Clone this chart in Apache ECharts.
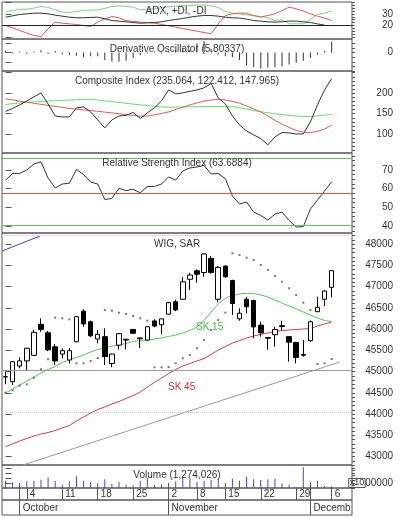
<!DOCTYPE html>
<html><head><meta charset="utf-8">
<script src="https://cdn.jsdelivr.net/npm/echarts@6/dist/echarts.min.js"></script>
<style>html,body{margin:0;padding:0;background:#fff}#c{width:400px;height:518px}</style>
</head><body><div id="c"></div>
<script>
// ---------- data ----------
const dates = ['2010-09-29','2010-09-30','2010-10-01',
 '2010-10-04','2010-10-05','2010-10-06','2010-10-07','2010-10-08',
 '2010-10-11','2010-10-12','2010-10-13','2010-10-14','2010-10-15',
 '2010-10-18','2010-10-19','2010-10-20','2010-10-21','2010-10-22',
 '2010-10-25','2010-10-26','2010-10-27','2010-10-28','2010-10-29',
 '2010-11-02','2010-11-03','2010-11-04','2010-11-05',
 '2010-11-08','2010-11-09','2010-11-10','2010-11-12',
 '2010-11-15','2010-11-16','2010-11-17','2010-11-18','2010-11-19',
 '2010-11-22','2010-11-23','2010-11-24','2010-11-25','2010-11-26',
 '2010-11-29','2010-11-30','2010-12-01','2010-12-02','2010-12-03',
 '2010-12-06'];
const open  = [44870,44760,45130,45250,45380,46110,45910,45580,45410,45270,45700,46420,46170,45765,45820,45190,45620,45740,45990,45770,45740,46190,46100,46350,46640,46700,47170,47370,47330,47660,46700,47480,47140,46240,46700,46670,46090,45780,45866,46060,45820,45680,45380,45725,46407,46700,46980];
const close = [44880,45230,45250,45546,45920,45990,45510,45250,45490,45490,46290,46120,45840,45875,45350,45410,45890,45760,45900,45790,46054,46070,46240,46620,46450,47110,47270,47290,47765,47330,47450,47230,46600,46370,46525,46050,45910,45800,45990,46080,45690,45330,45400,46170,46510,46894,47372];
const low   = [44700,44680,45075,45035,45370,45936,45480,45153,45310,45190,45690,46054,45810,45663,45153,45100,45520,45520,45890,45550,45730,46040,45880,46340,46420,46690,46918,47090,47230,47300,46640,47200,46330,46195,46370,45780,45819,45510,45584,45976,45230,45190,45350,45700,46400,46540,46745];
const high  = [45000,45250,45334,45560,45980,46250,45950,45647,45546,45550,46300,46463,46200,45976,46016,45420,45900,45770,46000,45800,46070,46230,46250,46640,46690,47220,47325,47400,47780,47720,47480,47500,47160,46487,46760,46690,46173,45810,46054,46195,45830,45700,45740,46200,46760,46920,47380];
const sar   = [44501,44558,44666,44699,44854,45052,45287,46266,46252,46228,45193,45193,45247,45318,46447,46431,46384,46353,46306,46252,46195,45099,45099,45106,45193,45311,45388,45546,45741,45976,46212,46384,47781,47741,47678,47624,47506,47388,47247,47113,46958,46800,46619,46447,45176,45193,45294];
const sk15  = [44494,44588,44682,44776,44871,44965,45047,45118,45212,45271,45329,45388,45459,45518,45553,45600,45624,45659,45706,45729,45741,45765,45788,45824,45859,45906,45965,46047,46200,46400,46590,46720,46788,46824,46840,46835,46800,46753,46682,46612,46541,46471,46400,46329,46259,46200,46177];
const sk45  = [43235,43294,43365,43424,43482,43529,43565,43612,43671,43729,43835,43929,44024,44106,44165,44235,44294,44365,44435,44518,44635,44741,44847,44953,45047,45129,45188,45247,45306,45400,45506,45588,45671,45729,45788,45835,45871,45906,45941,45965,45976,45988,46000,46012,46071,46118,46165];
const trendLine = [[2.46,42800],[47.17,45224]];
const blueLine  = [[-0.5,47835],[4.86,48188]];
const priceLevels = [48200,45035,44047];
const volume = [1470000,1130000,800000,1330000,1470000,1670000,2130000,1470000,670000,1330000,2330000,1470000,1200000,1000000,1730000,800000,1200000,670000,530000,1470000,2000000,530000,800000,670000,1330000,2330000,2000000,1200000,1470000,1670000,1870000,1000000,1870000,1470000,2270000,1730000,1600000,1730000,1870000,930000,670000,200000,4130000,1200000,1470000,400000,330000];
const plusDI  = [31.9,33.0,33.9,34.2,35.1,36.5,35.7,33.6,31.6,31.3,32.2,33.0,33.3,33.6,34.8,36.5,37.1,36.5,35.9,33.6,33.9,34.5,35.4,36.2,36.8,37.4,37.4,37.7,37.7,37.1,35.7,32.2,30.7,30.1,29.3,28.4,27.8,26.7,24.3,24.9,21.5,21.5,21.5,24.9,29.6,30.7,32.5];
const minusDI = [20.0,18.0,15.7,13.3,11.3,10.4,17.1,22.9,22.0,21.4,20.9,20.0,19.1,22.9,25.8,27.8,26.7,24.3,23.5,22.9,22.6,22.0,20.9,19.7,18.6,17.4,16.2,15.1,13.9,12.8,21.4,28.7,30.1,30.7,30.7,28.7,27.2,28.7,30.1,33.0,35.9,34.5,32.5,30.1,28.1,26.4,24.3];
const adx     = [27.2,28.4,29.6,30.1,30.7,30.7,30.1,29.0,28.1,27.2,26.7,26.7,27.0,27.2,25.8,24.3,23.8,23.2,22.6,22.0,22.3,22.6,23.2,24.3,25.2,26.1,27.2,28.1,28.7,28.7,28.1,27.2,26.7,26.4,25.5,24.3,23.8,23.2,22.9,23.2,23.8,23.8,23.2,22.6,21.4,20.3,null];
const adxLevel = [20];
const derivOsc = [0.8,-0.6,0.5,-0.8,0.6,1.2,-0.8,0.9,-1.0,-1.5,-1.8,-2.5,-2.0,-2.0,-4.0,-5.0,-5.0,-4.5,-3.0,-1.5,-0.6,0.5,-0.5,0.6,1.5,2.5,1.5,5.0,6.2,2.0,-1.0,-2.0,-2.5,-4.0,-7.0,-8.0,-8.6,-8.2,-8.0,-7.5,-6.5,-5.5,-4.5,-3.0,-1.2,1.0,5.8];
const composite = [155.6,162.9,171.5,181.2,191.0,200.7,173.9,144.6,142.2,142.2,164.1,166.6,154.4,134.9,115.4,134.9,144.6,145.9,153.2,138.5,152.0,164.1,181.2,208.0,198.3,200.7,204.4,208.0,212.9,223.9,188.5,173.9,144.6,122.7,108.0,98.3,89.8,74.3,93.4,104.4,103.2,100.7,100.7,130.0,171.5,208.0,235.1];
const compositeAvgA = [186.1,183.7,180.7,178.0,175.4,172.9,170.2,167.8,165.4,162.9,161.0,159.3,157.6,155.9,153.9,152.0,150.0,147.8,145.9,143.9,144.1,147.1,150.7,154.4,160.5,165.4,171.5,176.3,180.7,183.2,184.9,183.7,180.0,175.6,169.0,161.7,154.4,144.6,133.7,124.6,116.6,109.3,105.1,103.9,106.8,112.9,122.4];
const compositeAvgB = [172.4,174.6,176.3,178.3,178.8,179.8,180.7,181.7,182.4,183.2,184.1,184.9,185.1,183.2,181.2,179.3,177.3,175.4,173.4,171.5,170.0,168.3,166.6,165.9,166.1,166.6,166.8,167.1,167.3,167.3,167.3,167.3,167.3,164.6,161.2,158.0,154.9,152.4,150.0,147.8,145.9,144.6,143.4,143.2,144.6,146.3,148.0];
const rsi = [64.6,68.2,68.2,70.0,73.2,74.4,65.7,60.4,62.5,62.9,70.3,67.6,63.6,62.5,54.2,54.8,60.2,59.0,59.7,57.8,61.2,61.2,62.5,66.3,64.6,69.5,71.1,71.6,72.4,67.9,68.1,65.4,56.1,51.8,52.9,47.5,45.7,43.2,46.4,47.5,43.0,39.5,39.7,49.1,53.9,58.8,63.7];
const rsiBands = [76.4,57.7,40.5];
// tick labels
const adxTicks = [20,30];
const doTicks = [0];
const compTicks = [100,150,200];
const rsiTicks = [40,50,60,70];
const priceTicks = [43000,43500,44000,44500,45000,45500,46000,46500,47000,47500,48000];
const volTicks = [1000000];
const dayTickIdx = [3,8,13,18,23,27,31,36,41,46];
const dayTickLabels = ['4','11','18','25','2','8','15','22','29','6'];
const monthTickIdx = [2,23,43];
const monthNames = ['October','November','December'];
const titles = ['ADX, +DI, -DI','Derivative Oscillator (5.80337)','Composite Index (235.064, 122.412, 147.965)','Relative Strength Index (63.6884)','WIG, SAR','SK 15','SK 45','Volume (1,274,026)'];

// ---------- chart ----------
const FONT = '"Liberation Sans", Arial, sans-serif';
const TXT = '#333', LINE = '#555';
const X0 = -0.5, X1 = 48.87;
function ruler(a,b,s){const o=[];for(let v=a;v<=b+1e-9;v+=s)o.push(Math.round(v*1000)/1000);return o;}
const idx = a => a.map((v,i)=>[i,v]);

const panels = [
  {top:2,   h:37,  min:8.26,  max:40.4,  labels:adxTicks,   major:[10,20,30,40], minor:ruler(10,40,2.5)},
  {top:39,  h:32,  min:-10,   max:7.3,   labels:doTicks,    major:[-5,0,5],      minor:ruler(-10,7.5,2.5)},
  {top:71,  h:82,  min:54.4,  max:254,   labels:compTicks,  major:[100,150,200,250], minor:ruler(60,250,10)},
  {top:153, h:80,  min:36.3,  max:79.1,  labels:rsiTicks,   major:rsiTicks,      minor:ruler(37.5,77.5,2.5)},
  {top:233, h:232, min:42800, max:48259, labels:priceTicks, major:priceTicks,    minor:ruler(42800,48200,100)},
  {top:465, h:23,  min:0,     max:4600000, labels:volTicks, major:[1000000,2000000,3000000,4000000], minor:ruler(0,4500000,500000),
   fmt: () => '{b|x10}00000'}
];
const grids = [], xAxes = [], yAxes = [];
panels.forEach((p,g)=>{
  grids.push({left:2,right:48,top:p.top,height:p.h,show:true,borderColor:LINE,borderWidth:1});
  xAxes.push({type:'value',gridIndex:g,min:X0,max:X1,show:false});
  yAxes.push({type:'value',gridIndex:g,position:'right',min:p.min,max:p.max,
    axisLine:{show:false},splitLine:{show:false},
    axisTick:{show:true,length:6,customValues:p.major,lineStyle:{color:LINE}},
    axisLabel:{customValues:p.labels,align:'right',margin:41,fontSize:10,fontFamily:FONT,color:TXT,
      formatter:p.fmt||(v=>String(v)),
      rich:{b:{borderColor:'#555',borderWidth:1,padding:[0,1,0,1],fontSize:9,fontFamily:FONT,color:TXT}}}});
  yAxes.push({type:'value',gridIndex:g,position:'right',min:p.min,max:p.max,
    axisLine:{show:false},splitLine:{show:false},
    axisTick:{show:true,length:3,customValues:p.minor,lineStyle:{color:LINE}},
    axisLabel:{show:false}});
});
// day row (grid 6) & month row (grid 7)
grids.push({left:2,right:48,top:488,height:12,show:true,borderColor:LINE,borderWidth:1});
grids.push({left:2,right:48,top:500,height:15,show:true,borderColor:LINE,borderWidth:1});
xAxes.push({type:'value',gridIndex:6,min:X0,max:X1,position:'bottom',
  axisLine:{show:false},splitLine:{show:false},
  axisTick:{show:true,inside:true,length:12,customValues:dayTickIdx,lineStyle:{color:LINE}},
  axisLabel:{inside:true,customValues:dayTickIdx,margin:1,align:'left',padding:[0,0,0,3],
    fontSize:10,fontFamily:FONT,color:TXT,formatter:v=>dayTickLabels[dayTickIdx.indexOf(v)]}});
// month dividers and the months that fit
const monthFull = monthTickIdx.slice(0,2), monthLast = monthTickIdx.slice(2);
xAxes.push({type:'value',gridIndex:7,min:X0,max:X1,position:'bottom',
  axisLine:{show:false},splitLine:{show:false},
  axisTick:{show:true,inside:true,length:32,customValues:monthTickIdx,lineStyle:{color:LINE}},
  axisLabel:{inside:true,customValues:monthFull,margin:2,align:'left',padding:[0,0,0,3],
    fontSize:10,fontFamily:FONT,color:TXT,formatter:v=>monthNames[monthTickIdx.indexOf(v)]}});
// last month label, cut at the panel edge
xAxes.push({type:'value',gridIndex:7,min:X0,max:X1,position:'bottom',
  axisLine:{show:false},splitLine:{show:false},axisTick:{show:false},
  axisLabel:{inside:true,customValues:monthLast,margin:2,align:'left',padding:[0,0,0,3],
    width:39,overflow:'truncate',ellipsis:'',
    fontSize:10,fontFamily:FONT,color:TXT,formatter:v=>monthNames[monthTickIdx.indexOf(v)]}});
yAxes.push({type:'value',gridIndex:6,min:0,max:1,show:false});
yAxes.push({type:'value',gridIndex:7,min:0,max:1,show:false});

const ln = (data,x,y,color,extra) => Object.assign({type:'line',xAxisIndex:x,yAxisIndex:y,data:idx(data),
  showSymbol:false,symbol:'none',lineStyle:{color,width:1},itemStyle:{color},z:2,silent:true,connectNulls:false},extra||{});
const mk = (vals,styles) => ({symbol:'none',silent:true,label:{show:false},animation:false,
  data:vals.map((v,i)=>({yAxis:v,lineStyle:Object.assign({width:1,type:'solid'},styles[i])}))});

const series = [
  // ADX panel
  ln(plusDI,0,0,'#70dd70'),
  ln(minusDI,0,0,'#e05858'),
  ln(adx,0,0,'#333',{markLine:mk(adxLevel,[{color:'#222'}])}),
  // Derivative oscillator
  {type:'bar',xAxisIndex:1,yAxisIndex:2,data:idx(derivOsc),barWidth:1,itemStyle:{color:'#333'},silent:true},
  // Composite
  ln(compositeAvgB,2,4,'#66dd66'),
  ln(compositeAvgA,2,4,'#e05a5a'),
  ln(composite,2,4,'#333'),
  // RSI
  ln(rsi,3,6,'#333',{markLine:mk(rsiBands,[{color:'#5cc05c'},{color:'#dd5050'},{color:'#5cc05c'}])}),
  // Price
  ln(sk45,4,8,'#d83a4a'),
  ln(sk15,4,8,'#4ccc4c'),
  {type:'line',xAxisIndex:4,yAxisIndex:8,data:trendLine,showSymbol:false,symbol:'none',lineStyle:{color:'#999',width:1},z:2,silent:true},
  {type:'line',xAxisIndex:4,yAxisIndex:8,data:blueLine,showSymbol:false,symbol:'none',lineStyle:{color:'#3a46c8',width:1},z:2,silent:true},
  {type:'scatter',xAxisIndex:4,yAxisIndex:8,data:idx(sar),symbol:'rect',symbolSize:2,itemStyle:{color:'#555'},z:3,silent:true},
  {type:'candlestick',xAxisIndex:4,yAxisIndex:8,barWidth:5,z:4,silent:true,
   data:dates.map((d,i)=>[i,open[i],close[i],low[i],high[i]]),
   itemStyle:{color:'#fff',color0:'#000',borderColor:'#000',borderColor0:'#000',borderWidth:1},
   markLine:mk(priceLevels,[{color:'#f6d6d6'},{color:'#999'},{color:'#c8c8c8',type:'dotted'}])},
  // Volume
  {type:'bar',xAxisIndex:5,yAxisIndex:10,data:idx(volume),barWidth:1,itemStyle:{color:'#4848c0'},silent:true}
];

const tx = (text,x,y,align,fill) => ({type:'text',x,y,silent:true,z:10,
  style:{text,x:0,y:0,font:'10px '+FONT,fill:fill||TXT,align,textAlign:align,verticalAlign:'top',textVerticalAlign:'top'}});
const graphic = [
  tx(titles[0],176,6,'center'),
  tx(titles[1],177,44,'center'),
  tx(titles[2],177,76,'center'),
  tx(titles[3],177,158,'center'),
  tx(titles[4],154,239,'left'),
  tx(titles[5],196,322,'left','#44bb44'),
  tx(titles[6],168,382,'left','#cc3333'),
  tx(titles[7],177,470,'center')
];

const chart = echarts.init(document.getElementById('c'),null,{renderer:'canvas',width:400,height:518});
chart.setOption({animation:false,backgroundColor:'#fff',grid:grids,xAxis:xAxes,yAxis:yAxes,series,graphic});
</script></body></html>
